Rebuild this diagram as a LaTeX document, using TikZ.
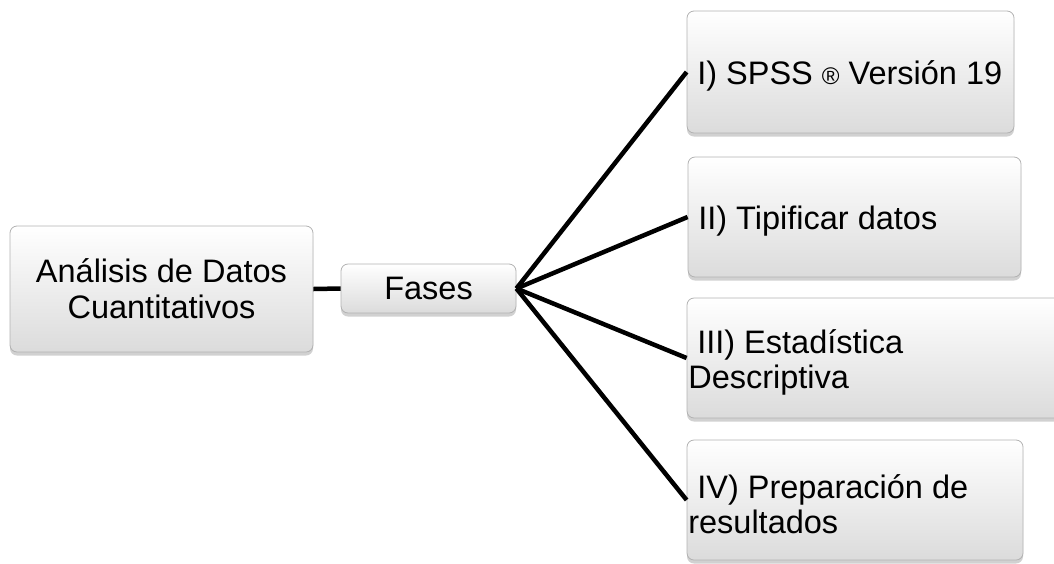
\documentclass[tikz,border=0pt]{standalone}
\usepackage{fontspec}
\setmainfont{Liberation Sans}
\usetikzlibrary{shadows,calc}
\begin{document}
\begin{tikzpicture}[x=1pt,y=-1pt,
  box/.style={rectangle, rounded corners=7pt, draw=gray!60, line width=0.8pt,
    top color=white, bottom color=gray!28,
    drop shadow={shadow xshift=0pt, shadow yshift=-3.5pt, opacity=0.3, fill=black!60},
    font=\fontsize{32.5}{36}\selectfont, inner xsep=1pt, inner ysep=0pt},
  txt/.style={font=\fontsize{32.5}{35}\selectfont, align=left, anchor=west, inner sep=0pt},
  link/.style={line width=4.5pt, black}]
\useasboundingbox (0,0) rectangle (1054,563);
\node[box, align=center, minimum width=303pt, minimum height=126pt] (a) at (161.5,289) {Análisis de Datos\\Cuantitativos};
\node[box, minimum width=175pt, minimum height=49pt] (f) at (428.5,288.5) {Fases};
\node[box, minimum width=327pt, minimum height=122pt] (p1) at (850.5,72) {};
\node[box, minimum width=333pt, minimum height=120pt] (p2) at (854.5,217) {};
\node[box, minimum width=375pt, minimum height=120pt] (p3) at (874.5,358) {};
\node[box, minimum width=336pt, minimum height=120pt] (p4) at (855,500) {};
\node[txt] (t1) at ($(p1.west)+(1.5,4)$) {\hspace*{9pt}I) SPSS {\fontsize{24}{24}\selectfont ®} Versión 19};
\node[txt] (t2) at ($(p2.west)+(1.5,4)$) {\hspace*{9pt}II) Tipificar datos};
\node[txt] (t3) at ($(p3.west)+(1.5,4)$) {\hspace*{9pt}III) Estadística\\Descriptiva};
\node[txt] (t4) at ($(p4.west)+(1.5,4)$) {\hspace*{9pt}IV) Preparación de\\resultados};
\draw[link] (a.east) -- (f.west);
\draw[link] (f.east) -- (p1.west);
\draw[link] (f.east) -- (p2.west);
\draw[link] (f.east) -- (p3.west);
\draw[link] (f.east) -- (p4.west);
\end{tikzpicture}
\end{document}
